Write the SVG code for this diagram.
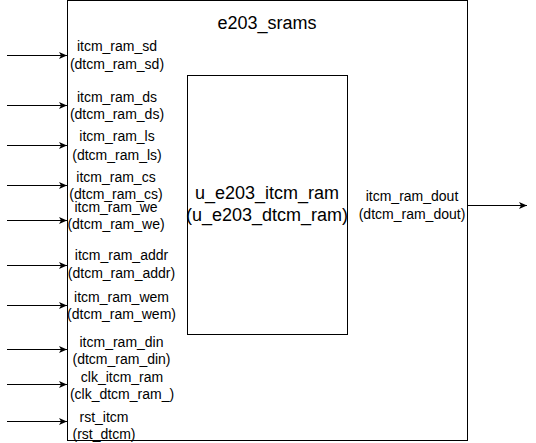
<svg xmlns="http://www.w3.org/2000/svg" width="536" height="443" viewBox="0 0 536 443">
<style>
.box{fill:#fff;stroke:#000;stroke-width:1}
.lbl{font-family:"Liberation Sans",Arial,sans-serif;font-size:14px;fill:#000;text-anchor:middle}
.big{font-family:"Liberation Sans",Arial,sans-serif;font-size:18px;fill:#000;text-anchor:middle}
.wire{stroke:#000;stroke-width:1;fill:none;marker-end:url(#arr)}
</style>
<defs>
<marker id="arr" markerUnits="userSpaceOnUse" markerWidth="10" markerHeight="10" refX="8" refY="4" orient="auto">
<path d="M0,0.5 L8,4 L0,7.5 L2,4 Z" fill="#000"/>
</marker>
</defs>
<rect width="536" height="443" fill="#fff"/>
<g id="e203_srams">
<rect class="box" x="67.5" y="0.5" width="400" height="440"/>
<text class="big" x="267" y="29">e203_srams</text>
</g>
<g id="u_e203_itcm_ram">
<rect class="box" x="187.5" y="75.5" width="160" height="259"/>
<text class="big" x="267" y="199">u_e203_itcm_ram</text>
<text class="big" x="267" y="221">(u_e203_dtcm_ram)</text>
</g>
<g id="ports">
<text class="lbl" x="117" y="51">itcm_ram_sd</text>
<text class="lbl" x="117" y="69">(dtcm_ram_sd)</text>
<text class="lbl" x="117" y="102">itcm_ram_ds</text>
<text class="lbl" x="117" y="119">(dtcm_ram_ds)</text>
<text class="lbl" x="117" y="141">itcm_ram_ls</text>
<text class="lbl" x="117" y="160">(dtcm_ram_ls)</text>
<text class="lbl" x="116" y="182">itcm_ram_cs</text>
<text class="lbl" x="116" y="199">(dtcm_ram_cs)</text>
<text class="lbl" x="116" y="212">itcm_ram_we</text>
<text class="lbl" x="116" y="229">(dtcm_ram_we)</text>
<text class="lbl" x="121.5" y="260">itcm_ram_addr</text>
<text class="lbl" x="121.5" y="278">(dtcm_ram_addr)</text>
<text class="lbl" x="121.5" y="302">itcm_ram_wem</text>
<text class="lbl" x="121.5" y="319">(dtcm_ram_wem)</text>
<text class="lbl" x="121.5" y="347">itcm_ram_din</text>
<text class="lbl" x="121.5" y="364">(dtcm_ram_din)</text>
<text class="lbl" x="122" y="382">clk_itcm_ram</text>
<text class="lbl" x="122" y="399">(clk_dtcm_ram_)</text>
<text class="lbl" x="104" y="422">rst_itcm</text>
<text class="lbl" x="104" y="439">(rst_dtcm)</text>
<text class="lbl" x="412" y="201">itcm_ram_dout</text>
<text class="lbl" x="412" y="219">(dtcm_ram_dout)</text>
</g>
<g id="connectors">
<line class="wire" x1="7" y1="55.5" x2="67" y2="55.5"/>
<line class="wire" x1="7" y1="105.5" x2="67" y2="105.5"/>
<line class="wire" x1="7" y1="145.5" x2="67" y2="145.5"/>
<line class="wire" x1="7" y1="185.5" x2="67" y2="185.5"/>
<line class="wire" x1="7" y1="220.5" x2="67" y2="220.5"/>
<line class="wire" x1="7" y1="265.5" x2="67" y2="265.5"/>
<line class="wire" x1="7" y1="305.5" x2="67" y2="305.5"/>
<line class="wire" x1="7" y1="349.5" x2="67" y2="349.5"/>
<line class="wire" x1="7" y1="384.5" x2="67" y2="384.5"/>
<line class="wire" x1="7" y1="421.5" x2="67" y2="421.5"/>
<line class="wire" x1="467" y1="205.5" x2="527" y2="205.5"/>
</g>
</svg>
